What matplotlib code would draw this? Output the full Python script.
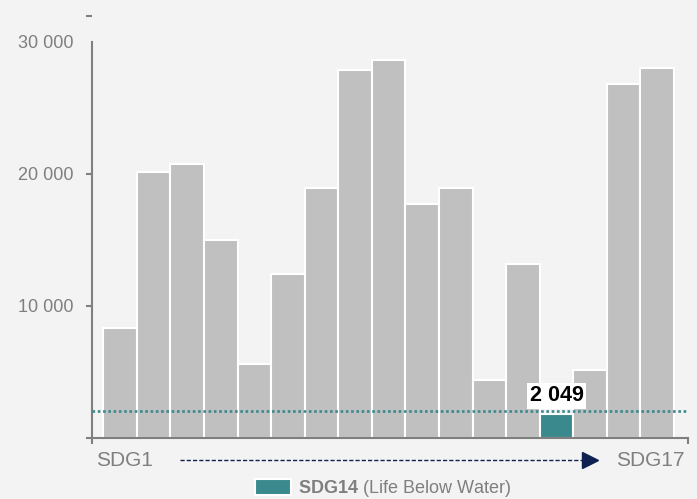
import matplotlib
matplotlib.use("Agg")
import matplotlib.pyplot as plt
import matplotlib.patches as mpatches

plt.rcParams['font.family'] = ['Liberation Sans', 'DejaVu Sans']
plt.rcParams['mathtext.fontset'] = 'custom'
plt.rcParams['mathtext.rm'] = 'Liberation Sans'
plt.rcParams['mathtext.bf'] = 'Liberation Sans:bold'

# data
goals = ["SDG%d" % i for i in range(1, 18)]
amounts = [8350, 20150, 20760, 15000, 5600, 12420, 18960, 27880, 28640,
           17730, 18960, 4400, 13180, 1800, 5150, 26820, 28030]
highlight = "SDG14"
reference_value = 2049
y_ticks = [10000, 20000, 30000]
y_tick_labels = ["10 000", "20 000", "30 000"]

BG = "#f3f3f3"
GREY_BAR = "#c0c0c0"
TEAL = "#3a898c"
NAVY = "#0e2150"
AXIS = "#7f7f7f"
W, H = 697, 499


def fpos(x, y):
    # pixel position -> figure fraction
    return x / W, 1 - y / H


fig = plt.figure(figsize=(W / 100, H / 100), dpi=100, facecolor=BG)
ax = fig.add_axes([92 / W, 1 - 438 / H, (687.7 - 92) / W, (438 - 15.6) / H])
ax.set_facecolor(BG)

xs = list(range(len(goals)))
colors = [TEAL if g == highlight else GREY_BAR for g in goals]
ax.bar(xs, amounts, width=1.0, color=colors, edgecolor="white", linewidth=1.5)

# reference line + label
ax.axhline(reference_value, color=TEAL, linestyle=(0, (1, 1)), linewidth=1.9, zorder=3)
hi = goals.index(highlight)
ax.annotate("2 049", xy=(hi, reference_value), xytext=(0, 11), textcoords="offset points",
            ha="center", va="center", fontsize=15.5, fontweight="bold", color="black",
            bbox=dict(boxstyle="square,pad=0.12", facecolor="white", edgecolor="none"),
            zorder=4)

ax.set_xlim(-0.837, 16.91)
ax.set_ylim(0, 32000)

for s in ["top", "right"]:
    ax.spines[s].set_visible(False)
for s in ["left", "bottom"]:
    ax.spines[s].set_color(AXIS)
    ax.spines[s].set_linewidth(1.5)
ax.spines["left"].set_bounds(0, 30000)

ax.set_yticks([0] + y_ticks + [32000])
ax.set_yticklabels([""] + y_tick_labels + [""])
ax.tick_params(axis="y", length=4.3, width=1.5, color=AXIS, labelcolor=AXIS,
               labelsize=13, pad=9)
ax.yaxis.get_major_ticks()[3].tick1line.set_visible(False)

ax.set_xticks([-0.837, 16.91])
ax.set_xticklabels(["", ""])
ax.tick_params(axis="x", length=4.3, width=1.5, color=AXIS)

# first / last labels and the arrow between them
fig.text(*fpos(124.7, 460), goals[0], ha="center", va="center", fontsize=15, color=AXIS)
fig.text(*fpos(650.3, 460), goals[-1], ha="center", va="center", fontsize=15, color=AXIS)
x0, y0 = fpos(180, 460)
x1, _ = fpos(583, 460)
xt, _ = fpos(589.5, 460)
fig.add_artist(plt.Line2D([x0, x1], [y0, y0], transform=fig.transFigure,
                          color=NAVY, linestyle=(0, (3, 1.5)), linewidth=1))
fig.add_artist(plt.Line2D([xt], [y0], transform=fig.transFigure, marker=">",
                          markersize=11, color=NAVY, linestyle="none"))

# legend
handle = mpatches.Patch(facecolor=TEAL, edgecolor="white", linewidth=1.5)
leg = fig.legend([handle], [r"$\bf{SDG14}$ (Life Below Water)"], loc="center",
                 bbox_to_anchor=fpos(383, 488.5), frameon=False, fontsize=13,
                 handlelength=2.0, handleheight=0.95, handletextpad=0.35,
                 borderpad=0.1)
for t in leg.get_texts():
    t.set_color(AXIS)

fig.savefig("out.png", dpi=100, facecolor=BG)
